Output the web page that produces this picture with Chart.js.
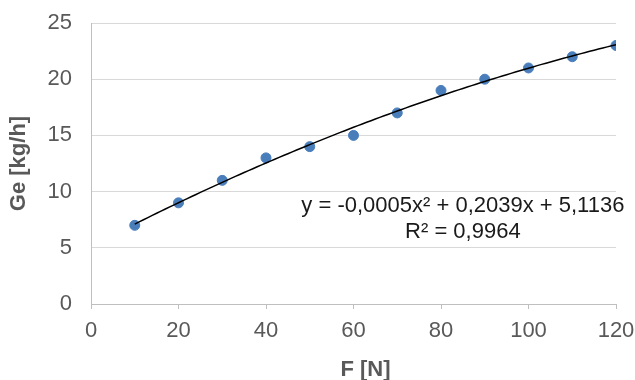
<!DOCTYPE html>
<html>
<head>
<meta charset="utf-8">
<script src="https://cdn.jsdelivr.net/npm/chart.js@4"></script>
<style>
  html, body { margin: 0; padding: 0; background: #fff; }
  #wrap { width: 635px; height: 380px; }
</style>
</head>
<body>
<div id="wrap"><canvas id="geChart" width="635" height="380"></canvas></div>
<script>
// measured points
const force = [10, 20, 30, 40, 50, 60, 70, 80, 90, 100, 110, 120];
const consumption = [7, 9, 11, 13, 14, 15, 17, 19, 20, 21, 22, 23];

const xRange = [0, 120, 20];
const yRange = [0, 25, 5];

const FONT = "'Liberation Sans', Arial, sans-serif";
const GREY = "#595959";

// 2nd order least squares fit, like a spreadsheet trendline
function polyFit(xs, ys) {
    let s = [0, 0, 0, 0, 0], t = [0, 0, 0];
    xs.forEach((x, i) => {
        for (let k = 0; k < 5; k++) s[k] += Math.pow(x, k);
        for (let k = 0; k < 3; k++) t[k] += Math.pow(x, k) * ys[i];
    });
    // rows for c0, c1, c2
    const m = [
        [s[0], s[1], s[2], t[0]],
        [s[1], s[2], s[3], t[1]],
        [s[2], s[3], s[4], t[2]]
    ];
    for (let i = 0; i < 3; i++) {
        for (let j = i + 1; j < 3; j++) {
            const f = m[j][i] / m[i][i];
            for (let k = i; k < 4; k++) m[j][k] -= f * m[i][k];
        }
    }
    const c = [0, 0, 0];
    for (let i = 2; i >= 0; i--) {
        let v = m[i][3];
        for (let k = i + 1; k < 3; k++) v -= m[i][k] * c[k];
        c[i] = v / m[i][i];
    }
    return c;
}

const coef = polyFit(force, consumption);
const fitAt = x => coef[0] + coef[1] * x + coef[2] * x * x;

const meanY = consumption.reduce((a, b) => a + b, 0) / consumption.length;
let ssRes = 0, ssTot = 0;
force.forEach((x, i) => {
    ssRes += Math.pow(consumption[i] - fitAt(x), 2);
    ssTot += Math.pow(consumption[i] - meanY, 2);
});
const r2 = 1 - ssRes / ssTot;

const trend = [];
for (let x = force[0]; x <= force[force.length - 1]; x += 1) {
    trend.push({ x: x, y: fitAt(x) });
}

const num = v => v.toFixed(4).replace(".", ",");
const signed = v => (v < 0 ? "- " : "+ ") + num(Math.abs(v));
const eqText = "y = " + num(coef[2]) + "x² " + signed(coef[1]) + "x " + signed(coef[0]);
const r2Text = "R² = " + num(r2);

// axis titles and the trendline label
const labels = {
    id: "labels",
    afterDraw(chart) {
        const ctx = chart.ctx, a = chart.chartArea;
        const sx = chart.scales.x, sy = chart.scales.y;
        ctx.save();
        ctx.textAlign = "center";
        ctx.textBaseline = "middle";

        ctx.fillStyle = "#1a1a1a";
        ctx.font = "22px " + FONT;
        ctx.fillText(eqText, sx.getPixelForValue(85), sy.getPixelForValue(8.75));
        ctx.fillText(r2Text, sx.getPixelForValue(85), sy.getPixelForValue(6.4));

        ctx.fillStyle = GREY;
        ctx.font = "bold 22px " + FONT;
        ctx.fillText("F [N]", (a.left + a.right) / 2 + 12, 370);

        ctx.translate(19, (a.top + a.bottom) / 2);
        ctx.rotate(-Math.PI / 2);
        ctx.fillText("Ge [kg/h]", 0, 0);
        ctx.restore();
    }
};

new Chart(document.getElementById("geChart"), {
    type: "scatter",
    data: {
        datasets: [{
            label: "trend",
            type: "line",
            data: trend,
            borderColor: "#000",
            borderWidth: 1.5,
            pointRadius: 0,
            fill: false,
            tension: 0
        }, {
            label: "Ge",
            data: force.map((x, i) => ({ x: x, y: consumption[i] })),
            backgroundColor: "#4a7ebb",
            borderColor: "#4a7ebb",
            pointRadius: 5,
            pointHoverRadius: 5
        }]
    },
    options: {
        responsive: false,
        animation: false,
        layout: { padding: { top: 23, right: 19, left: 0, bottom: 0 } },
        plugins: {
            legend: { display: false },
            tooltip: { enabled: false }
        },
        scales: {
            x: {
                type: "linear",
                min: xRange[0],
                max: xRange[1],
                afterFit: s => {
                    s.height = 76;
                    s.paddingLeft = 0;
                    s.paddingRight = 0;
                },
                ticks: {
                    stepSize: xRange[2],
                    color: GREY,
                    padding: 9,
                    font: { family: FONT, size: 22 }
                },
                grid: {
                    drawOnChartArea: false,
                    drawTicks: true,
                    tickLength: 5,
                    color: "#bfbfbf"
                },
                border: { color: "#bfbfbf", width: 1 }
            },
            y: {
                min: yRange[0],
                max: yRange[1],
                afterFit: s => {
                    s.width = 91;
                    s.paddingTop = 0;
                    s.paddingBottom = 0;
                },
                ticks: {
                    stepSize: yRange[2],
                    color: GREY,
                    padding: 19,
                    font: { family: FONT, size: 22 }
                },
                grid: {
                    color: "#d9d9d9",
                    drawTicks: false
                },
                border: { color: "#bfbfbf", width: 1 }
            }
        }
    },
    plugins: [labels]
});
</script>
</body>
</html>
